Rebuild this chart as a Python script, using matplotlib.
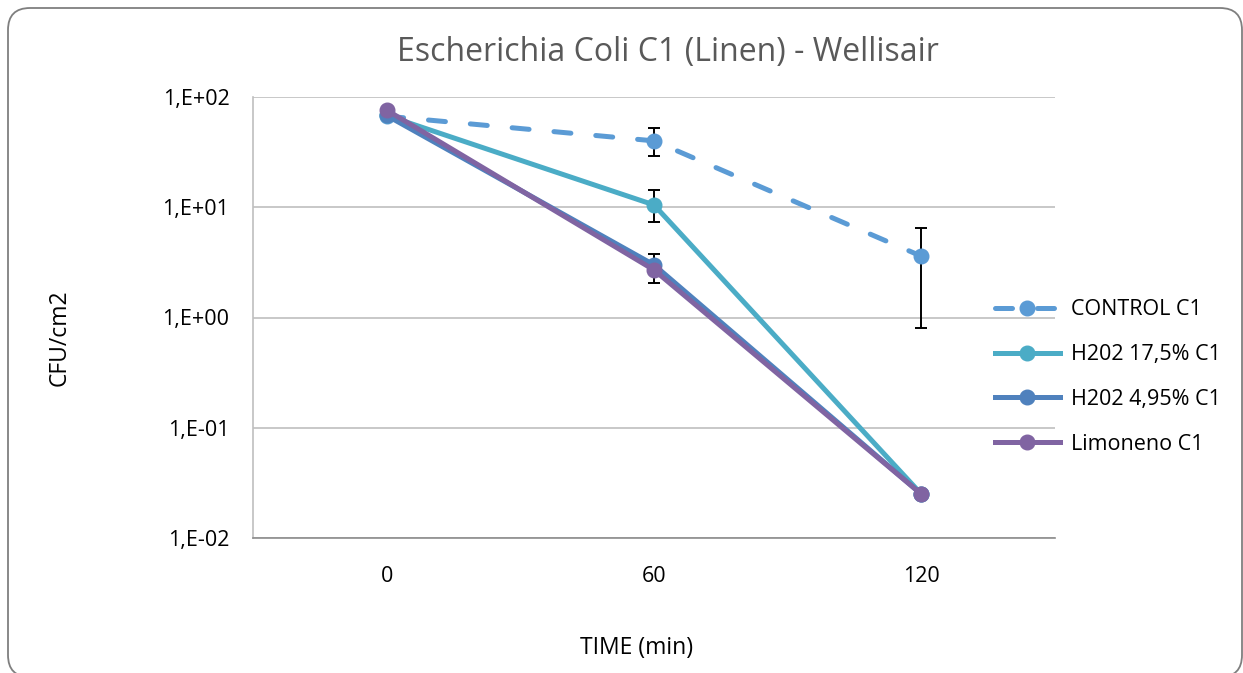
import numpy as np
import matplotlib.pyplot as plt
from matplotlib.patches import FancyBboxPatch
from matplotlib.lines import Line2D
from matplotlib.transforms import IdentityTransform
from matplotlib.ticker import FuncFormatter

plt.rcParams['font.family'] = ['Open Sans', 'DejaVu Sans']

times = ['0', '60', '120']
control = [67, 40, 3.6]
control_err_lo = [0, 11, 2.8]
control_err_hi = [0, 12, 2.9]
h2o2_175 = [68, 10.5, 0.025]
h2o2_175_err_lo = [0, 3.2, 0]
h2o2_175_err_hi = [0, 3.8, 0]
h2o2_495 = [68, 3.0, 0.025]
h2o2_495_err_lo = [0, 0.95, 0]
h2o2_495_err_hi = [0, 0.8, 0]
limoneno = [76, 2.7, 0.025]

colors = ['#5B9BD5', '#4BACC6', '#4F81BD', '#8064A2']
names = ['CONTROL C1', 'H202 17,5% C1', 'H202 4,95% C1', 'Limoneno C1']

W, H = 1243, 673
fig = plt.figure(figsize=(W / 100, H / 100), dpi=100)
# rounded chart-area border (pixel coords, origin bottom-left)
border = FancyBboxPatch((8, -4), 1234, 669, boxstyle="round,pad=0,rounding_size=22",
                        transform=IdentityTransform(), facecolor='none', edgecolor='#7f7f7f',
                        linewidth=1.3, zorder=10)
fig.patches.append(border)

ax = fig.add_axes([253 / W, 1 - 538 / H, (1055 - 253) / W, (538 - 97) / H])
x = np.arange(len(times))

lw = 3.6
ms = 10.5
dash = (0, (3.4, 5.0))
ekw = dict(ecolor='black', elinewidth=1.4, capsize=4.3, capthick=1.4)
ax.errorbar(x, control, yerr=[control_err_lo, control_err_hi], color=colors[0], lw=lw, ls=dash,
            dash_capstyle='round', marker='o', ms=ms, zorder=3, **ekw)
ax.errorbar(x, h2o2_175, yerr=[h2o2_175_err_lo, h2o2_175_err_hi], color=colors[1], lw=lw, marker='o', ms=ms,
            zorder=4, **ekw)
ax.errorbar(x, h2o2_495, yerr=[h2o2_495_err_lo, h2o2_495_err_hi], color=colors[2], lw=lw, marker='o', ms=ms,
            zorder=5, **ekw)
ax.plot(x, limoneno, color=colors[3], lw=lw, marker='o', ms=ms, zorder=6)

ax.set_yscale('log')
ax.set_ylim(1e-2, 1e2)
ax.set_xlim(-0.5, 2.5)
ax.set_xticks(x)
ax.set_xticklabels(times)
ax.yaxis.set_major_formatter(FuncFormatter(lambda v, p: f"1,E{int(round(np.log10(v))):+03d}"))
ax.yaxis.set_minor_locator(plt.NullLocator())
ax.tick_params(axis='both', length=0, labelsize=15.5, colors='#000000')
ax.tick_params(axis='x', pad=20)
ax.tick_params(axis='y', pad=17)
ax.grid(axis='y', color='#BFBFBF', lw=1.2)
for s in ['top', 'right']:
    ax.spines[s].set_visible(False)
ax.spines['left'].set_color('#BFBFBF')
ax.spines['bottom'].set_color('#8c8c8c')
ax.spines['left'].set_linewidth(1.2)
ax.spines['bottom'].set_linewidth(1.2)

fig.text(668 / W, 1 - 52 / H, 'Escherichia Coli C1 (Linen) - Wellisair', fontsize=23, color='#595959',
         ha='center', va='center')
fig.text(637 / W, 1 - 648 / H, 'TIME (min)', fontsize=16.5, ha='center', va='center')
fig.text(60 / W, 1 - 338 / H, 'CFU/cm2', fontsize=16.5, ha='center', va='center', rotation=90)

handles = [Line2D([], [], color=colors[0], lw=lw, ls=dash, dash_capstyle='round', marker='o', ms=ms)]
handles += [Line2D([], [], color=c, lw=lw, marker='o', ms=ms) for c in colors[1:]]
leg = fig.legend(handles, names, loc='center left', bbox_to_anchor=(995 / W, 1 - 377 / H), frameon=False,
                 fontsize=15.5, handlelength=3.0, handletextpad=0.55, labelspacing=1.1,
                 borderaxespad=0, borderpad=0)

fig.savefig('out.png', dpi=100)
